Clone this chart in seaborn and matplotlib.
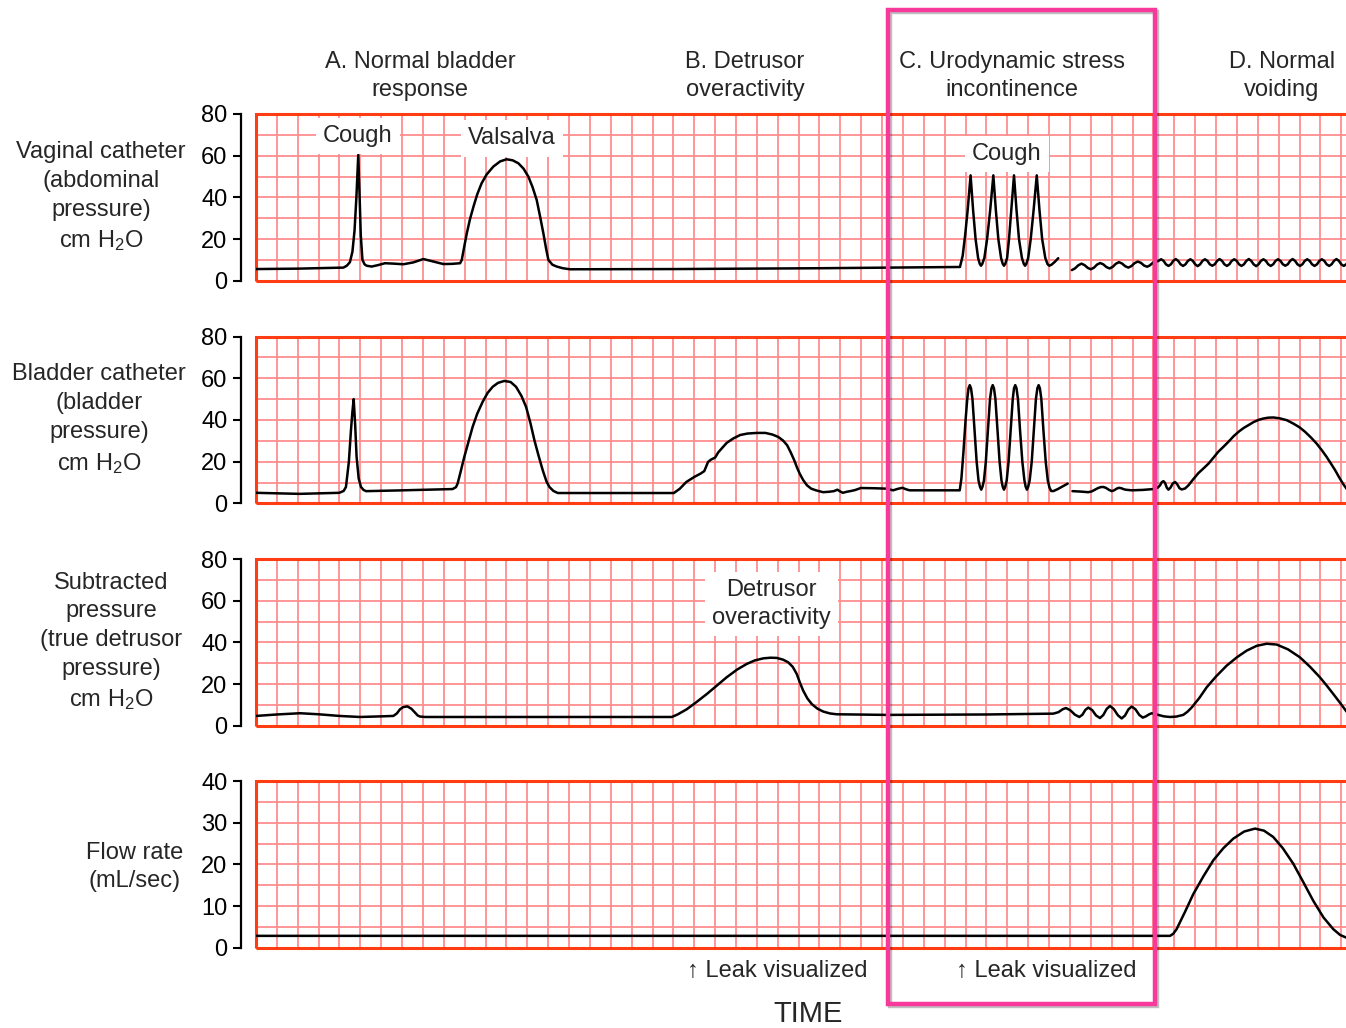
import pandas as pd
import matplotlib
matplotlib.use("Agg")
import matplotlib.pyplot as plt
import matplotlib.patheffects as pe
from matplotlib.patches import Rectangle
from matplotlib.ticker import MultipleLocator
import seaborn as sns

# ---------------------------------------------------------------
# Traces: time in chart-paper divisions, values in panel units
# ---------------------------------------------------------------

# Vaginal catheter (abdominal pressure), cm H2O
abd_t1 = [0.0, 2.0, 4.19, 4.35, 4.5, 4.62, 4.72, 4.81, 4.90, 4.96, 5.02, 5.10, 5.20, 5.30,
          5.54, 5.85, 6.18, 6.6, 7.06, 7.54, 8.02, 8.50, 8.98, 9.4, 9.78, 9.86, 9.97, 10.10,
          10.25, 10.42, 10.6, 10.81, 11.05, 11.37, 11.7, 12.01, 12.3, 12.57, 12.82, 13.05,
          13.25, 13.45, 13.62, 13.77, 13.9, 14.01, 14.2, 14.41, 14.7, 15.05, 20.0, 27.0,
          33.73, 33.86, 33.98, 34.1, 34.24, 34.36, 34.48, 34.6, 34.68, 34.74, 34.8, 34.9,
          35.03, 35.18, 35.33, 35.45, 35.57, 35.7, 35.78, 35.84, 35.9, 35.99, 36.08, 36.19,
          36.32, 36.44, 36.56, 36.7, 36.79, 36.85, 36.91, 37.0, 37.12, 37.26, 37.41, 37.54,
          37.67, 37.82, 37.93, 38.01, 38.12, 38.28, 38.44]
abd_v1 = [5.7, 5.9, 6.4, 7.3, 9.0, 14.0, 24.0, 40.0, 60.4, 42.0, 22.0, 10.1, 8.0, 7.3,
          6.9, 7.6, 8.5, 8.3, 8.0, 8.9, 10.5, 9.3, 8.1, 8.2, 8.5, 10.1, 16.0, 22.8,
          29.5, 35.6, 41.5, 46.8, 51.0, 54.8, 57.3, 58.3, 57.8, 56.4, 53.8, 50.0,
          45.0, 38.8, 30.5, 22.8, 15.5, 10.1, 7.8, 6.9, 6.1, 5.6, 5.7, 6.1,
          6.7, 12.0, 22.0, 34.0, 50.6, 34.0, 20.0, 11.0, 8.2, 7.3, 8.2, 11.0,
          20.0, 34.0, 50.6, 34.0, 20.0, 11.0, 8.2, 7.3, 8.2, 11.0, 20.0, 34.0,
          50.6, 34.0, 20.0, 11.0, 8.2, 7.3, 8.2, 11.0, 20.0, 34.0, 50.6, 34.0,
          20.0, 11.0, 8.0, 7.3, 7.8, 9.2, 10.9]
abd_t2 = [39.09, 39.24, 39.4, 39.55, 39.7, 39.85, 40.0, 40.15, 40.3, 40.45, 40.6, 40.75,
          40.9, 41.05, 41.2, 41.35, 41.5, 41.65, 41.8, 41.95, 42.1, 42.25, 42.4, 42.55,
          42.7, 42.82, 42.94, 43.05]
abd_v2 = [5.2, 6.0, 7.5, 8.3, 7.6, 6.3, 5.6, 6.35, 7.85, 8.6, 7.95, 6.65,
          6.0, 6.75, 8.25, 9.0, 8.35, 7.05, 6.4, 7.15, 8.55, 9.3, 8.7, 7.4,
          6.8, 7.4, 8.4, 9.4]
abd_t3 = [43.2,
          43.37, 43.49, 43.6, 43.72, 43.84, 43.95, 44.07, 44.19, 44.3, 44.42, 44.54, 44.65,
          44.77, 44.89, 45.0, 45.12, 45.24, 45.35, 45.47, 45.59, 45.7, 45.82, 45.94, 46.05,
          46.17, 46.29, 46.4, 46.52, 46.64, 46.75, 46.87, 46.99, 47.1, 47.22, 47.34, 47.45,
          47.57, 47.69, 47.8, 47.92, 48.04, 48.15, 48.27, 48.39, 48.5, 48.62, 48.74, 48.85,
          48.97, 49.09, 49.2, 49.32, 49.44, 49.55, 49.67, 49.79, 49.9, 50.02, 50.14, 50.25,
          50.37, 50.49, 50.6, 50.72, 50.84, 50.95, 51.07, 51.19, 51.3, 51.42, 51.54, 51.65,
          51.77, 51.89, 52.0, 52.12, 52.24, 52.35, 52.47]
abd_v3 = [9.4,
          10.4, 9.6, 8.0, 7.2, 8.0, 9.6, 10.5, 9.6, 8.0, 7.2, 8.0, 9.6,
          10.4, 9.6, 8.0, 7.1, 8.0, 9.6, 10.4, 9.6, 8.0, 7.3, 8.0, 9.6,
          10.5, 9.6, 8.0, 7.2, 8.0, 9.6, 10.4, 9.6, 8.0, 7.2, 8.0, 9.6,
          10.5, 9.6, 8.0, 7.1, 8.0, 9.6, 10.4, 9.6, 8.0, 7.2, 8.0, 9.6,
          10.4, 9.6, 8.0, 7.3, 8.0, 9.6, 10.5, 9.6, 8.0, 7.2, 8.0, 9.6,
          10.4, 9.6, 8.0, 7.2, 8.0, 9.6, 10.4, 9.6, 8.0, 7.2, 8.0, 9.6,
          10.5, 9.6, 8.0, 7.2, 8.0, 9.6, 10.4]

# Bladder catheter (bladder pressure), cm H2O
bla_t1 = [0.0, 2.08, 3.99, 4.2, 4.31, 4.45, 4.55, 4.62, 4.68, 4.75, 4.82, 4.92, 5.03, 5.15,
          5.27, 6.87, 9.42, 9.58, 9.66, 9.8, 9.98, 10.18, 10.38, 10.6, 10.86, 11.1, 11.34,
          11.6, 11.9, 12.2, 12.46, 12.72, 12.94, 13.15, 13.34, 13.55, 13.74, 13.92, 14.06,
          14.25, 14.46, 18.85, 20.02, 20.3, 20.62, 21.0, 21.3, 21.48, 21.58, 21.66, 21.8,
          22.0, 22.15, 22.31, 22.55, 22.86, 23.2, 23.55, 24.0, 24.41, 24.75, 25.02, 25.25,
          25.45, 25.62, 25.79, 25.92, 26.05, 26.22, 26.40, 26.6, 26.83, 27.17, 27.45, 27.69,
          27.86, 28.0, 28.12, 28.3, 28.47, 28.7, 28.98, 29.6, 30.19, 30.53, 30.75, 30.97,
          31.15, 31.31, 33.55,
          33.72, 33.8, 33.9, 34.0, 34.08, 34.14, 34.2, 34.26, 34.33, 34.43, 34.53, 34.62,
          34.69, 34.75, 34.81, 34.88, 34.97, 35.07, 35.17, 35.24, 35.3, 35.36, 35.43, 35.53,
          35.63, 35.72, 35.78, 35.84, 35.9, 35.97, 36.06, 36.16, 36.26, 36.32, 36.38, 36.44,
          36.51, 36.61, 36.72, 36.82, 36.88, 36.94, 37.0, 37.07, 37.17, 37.27, 37.37, 37.44,
          37.5, 37.56, 37.63, 37.73, 37.84, 37.94, 38.02, 38.1, 38.2, 38.4, 38.6, 38.89]
bla_v1 = [5.1, 4.6, 5.1, 6.0, 7.9, 20.0, 35.1, 44.0, 50.0, 38.0, 22.3, 12.0, 7.9, 6.5,
          5.9, 6.25, 6.9, 7.8, 9.5, 15.0, 22.3, 29.5, 36.7, 43.0, 48.7, 53.0, 55.9,
          57.8, 58.7, 58.2, 55.9, 51.5, 46.3, 38.5, 30.3, 22.5, 15.9, 10.5, 7.9,
          6.0, 5.0, 5.0, 5.0, 7.0, 10.3, 12.7, 14.3, 15.5, 18.0, 19.9, 21.0,
          22.0, 24.5, 26.3, 29.0, 31.1, 32.8, 33.5, 33.8, 33.8, 33.0, 31.9, 30.2,
          27.9, 24.5, 20.7, 17.3, 14.3, 11.2, 8.7, 7.1, 6.3, 5.4, 5.6, 5.9,
          6.6, 5.7, 5.1, 5.6, 5.9, 6.4, 7.4, 7.3, 7.1, 6.3, 7.0, 7.5,
          6.8, 6.3, 6.3,
          6.3, 12.0, 25.0, 40.0, 50.0, 55.2, 56.7, 55.2, 50.0, 35.0, 20.0, 11.0,
          8.0, 6.6, 8.0, 11.0, 20.0, 35.0, 50.0, 55.2, 56.7, 55.2, 50.0, 35.0,
          20.0, 11.0, 8.0, 6.6, 8.0, 11.0, 20.0, 35.0, 50.0, 55.2, 56.7, 55.2,
          50.0, 35.0, 20.0, 11.0, 8.0, 6.6, 8.0, 11.0, 20.0, 35.0, 50.0, 55.2,
          56.7, 55.2, 50.0, 35.0, 20.0, 11.0, 7.6, 6.0, 5.9, 6.8, 7.9, 9.5]
bla_t2 = [39.12, 39.5, 39.88, 40.05, 40.2, 40.35, 40.48, 40.6, 40.72, 40.86, 41.0, 41.12,
          41.24, 41.35, 41.46, 41.56, 41.66, 41.96, 42.5, 43.0]
bla_v2 = [5.9, 5.7, 5.4, 5.8, 6.6, 7.4, 7.85, 7.9, 7.5, 6.6, 5.9, 6.3,
          7.1, 7.5, 7.3, 6.9, 6.6, 6.3, 6.5, 6.9]
bla_t3 = [43.2, 43.32, 43.4, 43.48, 43.56, 43.64, 43.72, 43.82, 43.93, 44.04, 44.14, 44.25,
          44.36, 44.52, 44.68, 44.9, 45.15, 45.4, 45.64, 45.9, 46.1, 46.35, 46.59, 46.85,
          47.1, 47.33, 47.55, 47.8, 48.05, 48.27, 48.5, 48.75, 49.05, 49.39, 49.7, 50.0,
          50.27, 50.55, 50.82, 51.07, 51.3, 51.5, 51.71, 51.9, 52.1, 52.31, 52.45]
bla_v3 = [7.5, 8.7, 10.2, 10.7, 9.8, 7.6, 6.6, 7.6, 9.6, 10.3, 9.2, 7.3,
          6.7, 7.2, 8.7, 11.5, 14.5, 16.8, 19.1, 22.2, 24.7, 27.1, 29.5, 32.3,
          34.5, 36.2, 37.5, 39.0, 40.1, 40.7, 41.1, 41.2, 40.8, 39.9, 38.3, 36.5,
          34.3, 31.6, 28.7, 25.5, 22.3, 19.2, 15.9, 12.5, 9.2, 6.3, 4.5]

# Subtracted pressure (true detrusor pressure), cm H2O
det_t = [0.0, 1.0, 2.11, 3.0, 4.0, 4.98, 6.0, 6.58, 6.75, 6.9, 7.05, 7.25, 7.45, 7.62,
         7.75, 7.86, 8.1, 19.92, 20.2, 20.64, 21.1, 21.6, 22.1, 22.55, 23.05, 23.51,
         23.9, 24.31, 24.65, 24.95, 25.25, 25.5, 25.72, 25.91, 26.06, 26.22, 26.42,
         26.63, 26.9, 27.18, 27.5, 27.82, 30.22, 35.0, 38.2, 38.45, 38.65, 38.81, 39.02,
         39.24, 39.45, 39.6, 39.74, 39.88, 40.07, 40.25, 40.44, 40.6, 40.76, 40.92, 41.1,
         41.3, 41.48, 41.64, 41.8, 41.96, 42.14, 42.32, 42.49, 42.64, 42.78, 42.92,
         43.23, 43.5, 43.8, 44.1, 44.43, 44.63, 44.83, 45.2,
         45.55, 46.0, 46.51, 47.0, 47.47, 47.95, 48.43, 48.91, 49.45, 50.02, 50.5, 50.98,
         51.3, 51.62, 51.95, 52.23, 52.45]
det_v = [4.8, 5.5, 6.1, 5.6, 4.8, 4.3, 4.6, 4.8, 6.0, 8.0, 9.0, 9.4, 8.2, 6.4,
         5.0, 4.5, 4.3, 4.3, 5.5, 8.0, 11.4, 15.3, 19.5, 23.3, 27.0, 29.7,
         31.4, 32.4, 32.7, 32.6, 31.8, 30.5, 28.3, 24.9, 20.8, 16.9, 13.2,
         10.5, 8.3, 6.9, 6.0, 5.6, 5.3, 5.5, 5.9, 6.6, 8.0, 8.6, 7.5,
         5.4, 4.3, 5.4, 7.7, 8.8, 7.55, 5.05, 3.8, 5.25, 8.15, 9.6, 8.1,
         5.1, 3.6, 5.0, 7.9, 9.3, 7.98, 5.3, 4.0, 4.6, 5.5, 6.1,
         5.3, 4.6, 4.3, 4.5, 5.3, 6.8, 8.8, 13.4,
         18.5, 23.7, 28.9, 32.9, 36.1, 38.4, 39.4, 39.0, 36.7, 32.9, 28.4, 23.3,
         19.4, 15.3, 11.0, 7.2, 4.6]

# Flow rate, mL/sec
flow_t = [0.0, 43.8, 43.95, 44.11, 44.5, 44.91, 45.4, 45.87, 46.35, 46.83, 47.35, 47.87,
          48.3, 48.74, 49.2, 49.7, 50.2, 50.66, 51.15, 51.62, 51.95, 52.23, 52.5]
flow_v = [2.9, 2.9, 3.4, 4.5, 8.5, 12.9, 17.2, 21.0, 23.9, 26.2, 27.9, 28.6,
          28.1, 26.6, 23.9, 20.2, 15.6, 11.3, 7.3, 4.5, 3.1, 2.5, 2.0]

# Labels
row_labels = ["Vaginal catheter\n(abdominal\npressure)\ncm H$_2$O",
              "Bladder catheter\n(bladder\npressure)\ncm H$_2$O",
              "Subtracted\npressure\n(true detrusor\npressure)\ncm H$_2$O",
              "Flow rate\n(mL/sec)"]
section_titles = ["A. Normal bladder\nresponse", "B. Detrusor\noveractivity",
                  "C. Urodynamic stress\nincontinence", "D. Normal\nvoiding"]
y_limits = [80, 80, 80, 40]

# ---------------------------------------------------------------
# Styling
# ---------------------------------------------------------------
sns.set_theme(style="white")
plt.rcParams["font.family"] = ["Liberation Sans", "DejaVu Sans"]
plt.rcParams["mathtext.fontset"] = "custom"
plt.rcParams["mathtext.rm"] = "Liberation Sans"
plt.rcParams["mathtext.it"] = "Liberation Sans:italic"
plt.rcParams["mathtext.bf"] = "Liberation Sans:bold"

GRID = "#FF8E8E"
FRAME = "#FF3C12"
PINK = "#F8399C"
FS = 17

W, H = 1346, 1028
fig = plt.figure(figsize=(W / 100, H / 100), dpi=100)
fig.patch.set_facecolor("white")

CELL = 20.87          # pixels per paper division
LEFT = 256
XMAX = 52.6
PANEL_H = 8 * CELL
panel_tops = [114, 336.5, 559, 781]


def fx(px):
    return px / W


def fy(py):
    return 1 - py / H


traces = [
    [(abd_t1, abd_v1), (abd_t2, abd_v2), (abd_t3, abd_v3)],
    [(bla_t1, bla_v1), (bla_t2, bla_v2), (bla_t3, bla_v3)],
    [(det_t, det_v)],
    [(flow_t, flow_v)],
]

axes = []
for top, segs, ymax in zip(panel_tops, traces, y_limits):
    ax = fig.add_axes([fx(LEFT), fy(top + PANEL_H), XMAX * CELL / W, PANEL_H / H])
    df = pd.concat([pd.DataFrame({"t": t, "v": v, "seg": i})
                    for i, (t, v) in enumerate(segs)], ignore_index=True)
    sns.lineplot(data=df, x="t", y="v", units="seg", estimator=None, sort=False,
                 color="black", lw=1.8, ax=ax, legend=False, zorder=3)
    for ln in ax.get_lines():
        ln.set_solid_joinstyle("round")
        ln.set_solid_capstyle("round")
    ax.set_xlim(0, XMAX)
    ax.set_ylim(0, ymax)
    ax.set_xlabel("")
    ax.set_ylabel("")
    ax.xaxis.set_major_locator(MultipleLocator(1))
    ax.yaxis.set_major_locator(MultipleLocator(ymax / 4))
    ax.yaxis.set_minor_locator(MultipleLocator(ymax / 8))
    ax.grid(True, which="both", color=GRID, lw=1.3)
    ax.set_axisbelow(True)
    ax.tick_params(axis="x", which="both", bottom=False, labelbottom=False)
    ax.tick_params(axis="y", which="major", left=True, length=6, width=1.5,
                   color="black", labelsize=FS, pad=4, labelcolor="black")
    ax.tick_params(axis="y", which="minor", left=False, length=0)
    for s in ["top", "right", "bottom"]:
        ax.spines[s].set_visible(False)
    ax.spines["left"].set_position(("outward", 10.5))
    ax.spines["left"].set_color("black")
    ax.spines["left"].set_linewidth(1.6)
    ax.add_patch(Rectangle((0, 0), 1, 1, transform=ax.transAxes, fill=False,
                           ec=FRAME, lw=2.2, clip_on=False, zorder=2.5))
    axes.append(ax)

# Row labels on the left
for lab, (x, y) in zip(row_labels, [(101, 197), (99, 419.5), (111, 642), (135, 867)]):
    fig.text(fx(x), fy(y), lab, ha="center", va="center", fontsize=FS,
             linespacing=1.4, multialignment="center")

# Section headings
for title, x in zip(section_titles, [420, 745, 1012, 1282]):
    fig.text(fx(x), fy(76), title, ha="center", va="center", fontsize=FS,
             linespacing=1.32, multialignment="center")

# Event annotations inside the panels
box = dict(boxstyle="square,pad=0.3", fc="white", ec="none")
axes[0].text(4.89, 69.5, "Cough", ha="center", va="center", fontsize=FS, bbox=box, zorder=4)
axes[0].text(12.27, 68.3, "Valsalva", ha="center", va="center", fontsize=FS, bbox=box, zorder=4)
axes[0].text(35.98, 60.9, "Cough", ha="center", va="center", fontsize=FS, bbox=box, zorder=4)
axes[2].text(24.68, 58.5, "Detrusor\noveractivity", ha="center", va="center",
             fontsize=FS, bbox=box, linespacing=1.38, zorder=4)

# Leak markers and time axis caption
fig.text(fx(777), fy(971), "\u2191 Leak visualized", ha="center", va="center", fontsize=FS)
fig.text(fx(1046), fy(971), "\u2191 Leak visualized", ha="center", va="center", fontsize=FS)
fig.text(fx(808), fy(1014), "TIME", ha="center", va="center", fontsize=21)

# Highlight frame around the stress-incontinence section
fig.add_artist(Rectangle((fx(888), fy(1004)), fx(1155) - fx(888), fy(10) - fy(1004),
                         transform=fig.transFigure, fill=False, ec=PINK, lw=3.2,
                         zorder=10,
                         path_effects=[pe.SimpleLineShadow(offset=(1.5, -1.5),
                                                           shadow_color="black", alpha=0.25),
                                       pe.Normal()]))

fig.savefig("out.png", dpi=100, facecolor="white")
